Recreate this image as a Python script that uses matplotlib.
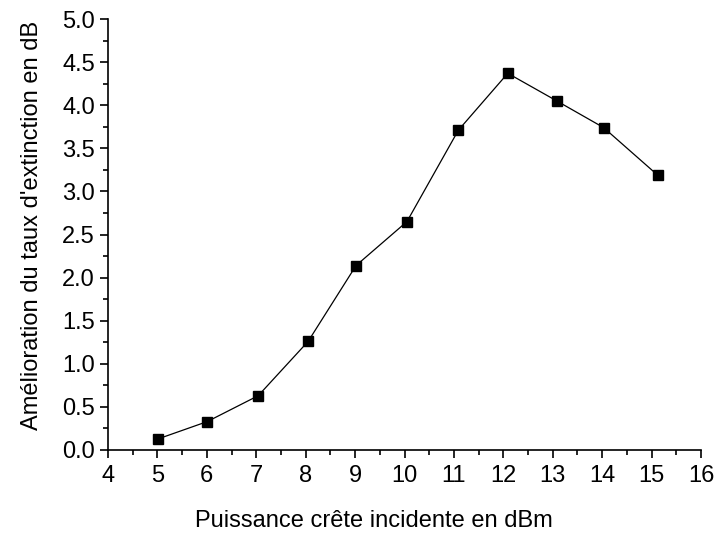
import matplotlib
matplotlib.use("Agg")
import matplotlib.pyplot as plt
from matplotlib.ticker import MultipleLocator

plt.rcParams["font.family"] = ["Liberation Sans", "DejaVu Sans"]

# Données
puissance_dbm = [5.02, 6.01, 7.04, 8.05, 9.02, 10.05, 11.09, 12.09, 13.08, 14.03, 15.12]
amelioration_db = [0.13, 0.33, 0.63, 1.26, 2.14, 2.65, 3.71, 4.37, 4.05, 3.74, 3.19]

fig = plt.figure(figsize=(7.17, 5.33), dpi=100)
ax = fig.add_axes([108 / 717, 83 / 533, 593 / 717, 431 / 533])

ax.plot(puissance_dbm, amelioration_db, color="black", lw=0.9,
        marker="s", markersize=6.5, markerfacecolor="black", markeredgecolor="black")

ax.set_xlim(4, 16)
ax.set_ylim(0, 5)
ax.xaxis.set_major_locator(MultipleLocator(1))
ax.xaxis.set_minor_locator(MultipleLocator(0.5))
ax.yaxis.set_major_locator(MultipleLocator(0.5))
ax.yaxis.set_minor_locator(MultipleLocator(0.25))
ax.yaxis.set_major_formatter(matplotlib.ticker.FormatStrFormatter("%.1f"))

for s in ("top", "right"):
    ax.spines[s].set_visible(False)
for s in ("left", "bottom"):
    ax.spines[s].set_linewidth(1.2)

ax.tick_params(which="major", direction="out", length=5.5, width=1.2, labelsize=17)
ax.tick_params(which="minor", direction="out", length=3.5, width=1.2)
ax.tick_params(axis="x", which="major", pad=5)
ax.tick_params(axis="y", which="major", pad=4)

ax.set_xlabel("Puissance crête incidente en dBm", fontsize=17)
ax.set_ylabel("Amélioration du taux d'extinction en dB", fontsize=17, labelpad=14)
# les titres d'axes ne sont pas centrés sur l'axe dans l'original
ax.xaxis.set_label_coords(0.449, -0.139)
ax.yaxis.get_label().set_position((0, 0.522))

fig.savefig("out.png", dpi=100)
